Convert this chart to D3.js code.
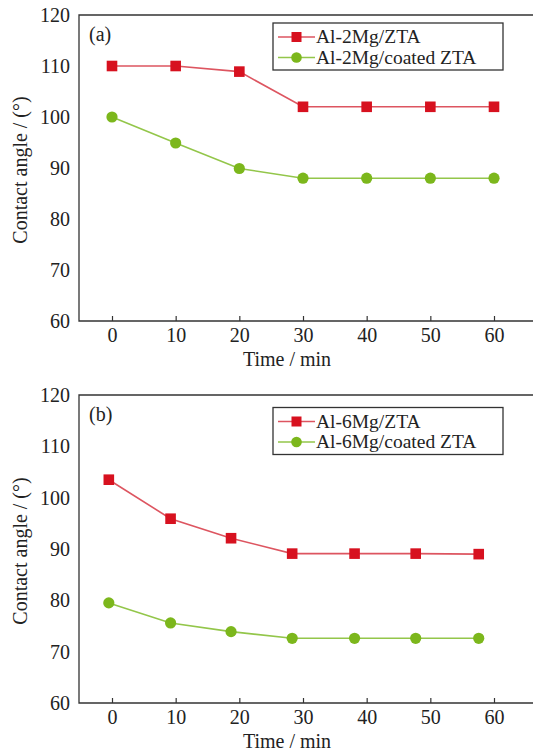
<!DOCTYPE html>
<html>
<head>
<meta charset="utf-8">
<script src="https://cdn.jsdelivr.net/npm/d3@7"></script>
<style>
  html, body { margin: 0; padding: 0; background: #fff; }
  svg { display: block; font-family: "Liberation Serif", "Times New Roman", serif; }
</style>
</head>
<body>
<svg id="chart" width="533" height="756"></svg>
<script>
// values
const timeA = [0, 10, 20, 30, 40, 50, 60];
const al2Mg = [110, 110, 108.9, 102, 102, 102, 102];
const al2MgCoated = [100, 94.9, 89.9, 88, 88, 88, 88];

const timeB = [-0.5, 9.2, 18.7, 28.3, 38.1, 47.7, 57.6];
const al6Mg = [103.5, 95.9, 92.1, 89.1, 89.1, 89.1, 89.0];
const al6MgCoated = [79.5, 75.6, 73.9, 72.6, 72.6, 72.6, 72.6];

const xTicks = [0, 10, 20, 30, 40, 50, 60];
const yTicks = [60, 70, 80, 90, 100, 110, 120];

const RED = "#d7111f", RED_LINE = "#dd5560";
const GREEN = "#7cb71c", GREEN_LINE = "#93c64a";
const INK = "#222";
const SERIF = "'Liberation Serif', 'Times New Roman', serif";

const svg = d3.select("#chart");

function drawPanel(p) {
  const left = 79, right = 536;
  const x = d3.scaleLinear().domain([0, 60]).range([112, 494]);
  const y = d3.scaleLinear().domain([60, 120]).range([p.bottom, p.top]);
  const g = svg.append("g");

  // frame (right edge runs off the picture)
  g.append("path")
    .attr("d", `M${right},${p.top}H${left}V${p.bottom}H${right}`)
    .attr("fill", "none").attr("stroke", "#333").attr("stroke-width", 1.3);

  // ticks point inward
  g.append("g").attr("transform", `translate(0,${p.bottom})`)
    .call(d3.axisBottom(x).tickValues(xTicks).tickSize(-5).tickPadding(8).tickFormat(d3.format("d")))
    .attr("font-family", SERIF).attr("font-size", 20)
    .call(s => s.select(".domain").remove())
    .call(s => s.selectAll("line").attr("stroke", "#333").attr("stroke-width", 1.2))
    .call(s => s.selectAll("text").attr("fill", INK).attr("y", 0).attr("dy", 21));

  g.append("g").attr("transform", `translate(${left},0)`)
    .call(d3.axisLeft(y).tickValues(yTicks).tickSize(0).tickPadding(9).tickFormat(d3.format("d")))
    .attr("font-family", SERIF).attr("font-size", 20)
    .call(s => s.select(".domain").remove())
    .call(s => s.selectAll("text").attr("fill", INK));

  g.append("text")
    .attr("x", 287).attr("y", p.bottom + 45)
    .attr("text-anchor", "middle").attr("font-size", 20).attr("fill", INK)
    .text("Time / min");

  g.append("text")
    .attr("transform", `translate(27,${(p.top + p.bottom) / 2 + 2}) rotate(-90)`)
    .attr("text-anchor", "middle").attr("font-size", 20).attr("fill", INK)
    .text("Contact angle / (°)");

  g.append("text")
    .attr("x", 89).attr("y", p.top + 26)
    .attr("font-size", 20).attr("fill", INK)
    .text(p.tag);

  const line = d3.line().x(d => x(d[0])).y(d => y(d[1]));

  p.series.forEach(s => {
    const pts = d3.zip(p.time, s.values);
    g.append("path").datum(pts)
      .attr("d", line).attr("fill", "none")
      .attr("stroke", s.line).attr("stroke-width", 1.6);
    if (s.shape === "square") {
      g.selectAll(null).data(pts).join("rect")
        .attr("x", d => x(d[0]) - 5.3).attr("y", d => y(d[1]) - 5.3)
        .attr("width", 10.6).attr("height", 10.6).attr("fill", s.color);
    } else {
      g.selectAll(null).data(pts).join("circle")
        .attr("cx", d => x(d[0])).attr("cy", d => y(d[1]))
        .attr("r", 5.6).attr("fill", s.color);
    }
  });

  // legend
  const lg = g.append("g").attr("transform", `translate(273,${p.top + p.legendDy})`);
  lg.append("rect").attr("width", 230).attr("height", 47)
    .attr("fill", "#fff").attr("stroke", "#333").attr("stroke-width", 1.3);
  p.series.forEach((s, i) => {
    const cy = 14 + i * 20.5;
    lg.append("line").attr("x1", 5).attr("x2", 42).attr("y1", cy).attr("y2", cy)
      .attr("stroke", s.line).attr("stroke-width", 1.6);
    if (s.shape === "square") {
      lg.append("rect").attr("x", 23.5 - 5).attr("y", cy - 5).attr("width", 10).attr("height", 10).attr("fill", s.color);
    } else {
      lg.append("circle").attr("cx", 23.5).attr("cy", cy).attr("r", 5.3).attr("fill", s.color);
    }
    lg.append("text").attr("x", 43).attr("y", cy + 6)
      .attr("font-size", 19.5).attr("fill", INK).text(s.name);
  });
}

drawPanel({
  top: 15, bottom: 321, tag: "(a)", time: timeA, legendDy: 8,
  series: [
    { name: "Al-2Mg/ZTA", values: al2Mg, color: RED, line: RED_LINE, shape: "square" },
    { name: "Al-2Mg/coated ZTA", values: al2MgCoated, color: GREEN, line: GREEN_LINE, shape: "circle" }
  ]
});

drawPanel({
  top: 395, bottom: 703, tag: "(b)", time: timeB, legendDy: 12.5,
  series: [
    { name: "Al-6Mg/ZTA", values: al6Mg, color: RED, line: RED_LINE, shape: "square" },
    { name: "Al-6Mg/coated ZTA", values: al6MgCoated, color: GREEN, line: GREEN_LINE, shape: "circle" }
  ]
});
</script>
</body>
</html>
